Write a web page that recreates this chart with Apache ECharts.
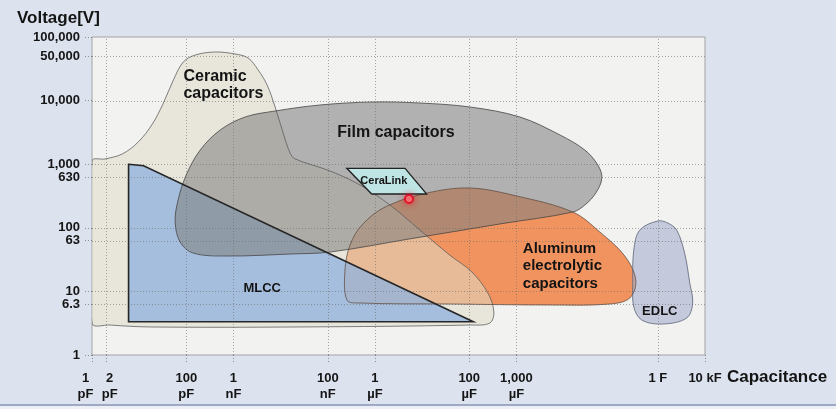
<!DOCTYPE html>
<html><head><meta charset="utf-8">
<script src="https://cdn.jsdelivr.net/npm/echarts@6/dist/echarts.min.js"></script>
<style>html,body{margin:0;padding:0;background:#dde3ee}#c{width:836px;height:409px}</style>
</head><body><div id="c"></div><script>
// Capacitance in pF, voltage in V
const xTickValues = [1, 2, 100, 1e3, 1e5, 1e6, 1e8, 1e9, 1e12, 1e13];
const xTickLabels = ['1\npF', '2\npF', '100\npF', '1\nnF', '100\nnF', '1\nµF', '100\nµF', '1,000\nµF', '1 F', '10 kF'];
const yTickValues = [1, 6.3, 10, 63, 100, 630, 1000, 10000, 50000, 100000];
const yTickLabels = ['1', '6.3', '10', '63', '100', '630', '1,000', '10,000', '50,000', '100,000'];
const xGridValues = [2, 100, 1e3, 1e5, 1e6, 1e8, 1e9, 1e12];
const yGridValues = [6.3, 10, 63, 100, 630, 1000, 10000, 50000];

const ceramicCapacitors = [[1,1120],[1.9,1210],[4.4,1450],[9.6,2240],[19,4270],[32,8860],[53,20900],[86,40400],[155,52100],[410,58100],[1090,54000],[2050,46700],[3330,30400],[5170,17600],[7640,7930],[11300,3100],[15900,1500],[20300,1210],[1.12e5,782],[4.83e5,471],[2.09e6,228],[9.0e6,92],[3.9e7,37],[1.14e8,20.2],[2.49e8,9.4],[3.33e8,4.74],[2.74e8,3.18],[1.04e8,2.96],[2.59e4,2.76],[17,2.76],[2.4,2.96],[1,3.18]];
const filmCapacitors = [[58,123],[67,274],[99.5,676],[197,1670],[523,3450],[1770,5520],[7640,6860],[68700,8530],[9.1e5,9510],[9.0e6,9160],[1.04e8,7930],[1.19e9,5520],[8.4e9,2880],[2.83e10,1670],[5.33e10,971],[6.5e10,607],[4.83e10,352],[2.83e10,228],[1.57e10,177],[4.47e8,115],[5.5e6,67],[1.12e5,41.6],[1.59e4,38.7],[735,36],[140,40],[74,59.8]];
const aluminumElectrolytic = [[2.56e5,7.3],[2.32e5,21.7],[2.97e5,53.7],[5.33e5,111],[1.64e6,212],[1.27e7,352],[1.04e8,422],[1.02e9,316],[1.57e10,177],[5.87e10,86],[1.99e11,36],[3.4e11,15.1],[2.54e11,7.87],[9.6e10,6.34],[5.1e9,6.11],[3.9e7,6.34],[4.83e5,6.57]];
const edlc = [[9.95e11,128],[1.62e12,119],[2.51e12,92],[3.7e12,40],[4.74e12,13.6],[5.48e12,6.57],[4.09e12,3.82],[1.27e12,3.07],[4.56e11,3.55],[3.09e11,5.69],[2.94e11,13.6],[3.09e11,44.8],[4.14e11,92]];
const mlcc = [[5.96,996],[12.4,947],[1.22e8,3.34],[5.96,3.34]];
const ceraLink = [[2.53e5,862],[4.35e6,862],[1.25e7,340],[8.55e5,340]];
const ceraLinkSample = [[5.28e6,284]];

const regionLabels = [
  { text: 'Ceramic\ncapacitors', at: [87, 17300] },
  { text: 'Film capacitors', at: [2.8e6, 3090] },
  { text: 'MLCC', at: [4070, 11.3] },
  { text: 'Aluminum\nelectrolytic\ncapacitors', at: [1.37e9, 25.1] },
  { text: 'EDLC', at: [1.1e12, 4.92] }
];
const ceraLinkLabel = { text: 'CeraLink', at: [1.55e6, 545] };

// ---- styles ----
const FONT = '"Liberation Sans", Arial, Helvetica, sans-serif';
const labelStyle = {
  'Ceramic\ncapacitors': { size: 16, align: 'left', lh: 17 },
  'Film capacitors': { size: 16, align: 'center', lh: 18 },
  'MLCC': { size: 13, align: 'center', lh: 15 },
  'Aluminum\nelectrolytic\ncapacitors': { size: 15, align: 'left', lh: 17.5 },
  'EDLC': { size: 13, align: 'center', lh: 15 },
  'CeraLink': { size: 11, align: 'center', lh: 13 }
};
const fillLayers = [
  { pts: aluminumElectrolytic, fill: '#f0935e', smooth: 0.35 },
  { pts: ceramicCapacitors, fill: 'rgba(224,219,200,0.55)', smooth: 0.35 },
  { pts: mlcc, fill: 'rgba(147,180,222,0.78)', smooth: 0 },
  { pts: filmCapacitors, fill: 'rgba(128,128,128,0.57)', smooth: 0.35 },
  { pts: edlc, fill: 'rgba(168,176,207,0.62)', smooth: 0.35 }
];
const outlineLayers = [
  { pts: aluminumElectrolytic, stroke: 'rgba(95,75,65,0.85)', w: 0.9, smooth: 0.35 },
  { pts: ceramicCapacitors, stroke: 'rgba(90,90,90,0.85)', w: 0.9, smooth: 0.35 },
  { pts: filmCapacitors, stroke: 'rgba(70,70,70,0.9)', w: 0.9, smooth: 0.35 },
  { pts: edlc, stroke: 'rgba(100,106,125,0.95)', w: 0.9, smooth: 0.35 },
  { pts: mlcc, stroke: '#262626', w: 1.6, smooth: 0 }
];

function polyRender(layers, mode) {
  return function (params, api) {
    const L = layers[params.dataIndex];
    return {
      type: 'polygon', z2: params.dataIndex,
      shape: { points: L.pts.map(p => api.coord(p)), smooth: L.smooth },
      style: mode === 'fill' ? { fill: L.fill, stroke: null } : { fill: null, stroke: L.stroke, lineWidth: L.w }
    };
  };
}
function findIdx(arr, v) {
  return arr.findIndex(t => Math.abs(Math.log10(t) - Math.log10(v)) < 1e-6);
}
function textEl(label, api) {
  const p = api.coord(label.at);
  const s = labelStyle[label.text];
  return {
    type: 'text', x: p[0], y: p[1], z2: 50,
    style: { text: label.text, fill: '#141414', font: 'bold ' + s.size + 'px ' + FONT,
      align: s.align, verticalAlign: 'middle', lineHeight: s.lh }
  };
}
const tokenBase = { fontWeight: 'bold', fontSize: 13, fontFamily: FONT, color: '#141414', lineHeight: 16 };
function xLabelFormatter(v) {
  const i = findIdx(xTickValues, v);
  const s = xTickLabels[i] || '';
  const tag = i === 0 ? 'l' : (i === 1 ? 'r' : 'n');
  return s.split('\n').map(line => '{' + tag + '|' + line + '}').join('\n');
}
function xAxisDef(values, withTicks) {
  return {
    type: 'log', logBase: 10, min: 1, max: 1e13, position: 'bottom', offset: 0,
    axisLine: { show: false }, splitLine: { show: false }, minorTick: { show: false },
    axisTick: { show: withTicks, customValues: xTickValues, length: 7, lineStyle: dotted },
    axisLabel: {
      customValues: values, margin: 15, hideOverlap: false, showMinLabel: true, showMaxLabel: true,
      color: '#141414', fontWeight: 'bold', fontSize: 13, fontFamily: FONT, lineHeight: 16,
      formatter: xLabelFormatter,
      rich: {
        n: tokenBase,
        l: Object.assign({}, tokenBase, { padding: [0, 13, 0, 0] }),
        r: Object.assign({}, tokenBase, { padding: [0, 0, 0, 7] })
      }
    }
  };
}

const chart = echarts.init(document.getElementById('c'), null, { renderer: 'canvas' });
const dotted = { color: 'rgba(110,110,110,0.75)', type: [1, 2], width: 1 };
chart.setOption({
  backgroundColor: '#dde3ee',
  animation: false,
  grid: { left: 92, right: 131, top: 37, bottom: 54, show: true, backgroundColor: '#f2f2f1',
    borderColor: '#a3a3a3', borderWidth: 1, containLabel: false, outerBoundsMode: 'none' },
  xAxis: [
    xAxisDef(xTickValues.filter((v, i) => i !== 1), true),
    xAxisDef([xTickValues[1]], false)
  ],
  yAxis: {
    type: 'log', logBase: 10, min: 1, max: 1e5,
    axisLine: { show: false }, splitLine: { show: false }, minorTick: { show: false },
    axisTick: { show: true, customValues: yTickValues, length: 7, lineStyle: dotted },
    axisLabel: {
      customValues: yTickValues, margin: 12, hideOverlap: false, showMinLabel: true, showMaxLabel: true,
      color: '#141414', fontWeight: 'bold', fontSize: 13, fontFamily: FONT,
      formatter: function (v) { return yTickLabels[findIdx(yTickValues, v)] || ''; }
    }
  },
  graphic: [
    { type: 'text', left: 17, top: 10, style: { text: 'Voltage[V]', font: 'bold 17px ' + FONT, fill: '#141414' } },
    { type: 'text', left: 727, top: 369, style: { text: 'Capacitance', font: 'bold 17px ' + FONT, fill: '#141414' } },
    { type: 'rect', left: 0, top: 404, shape: { width: 836, height: 2 }, style: { fill: '#9ea9c5' } },
    { type: 'rect', left: 0, top: 406, shape: { width: 836, height: 3 }, style: { fill: '#eceff5' } }
  ],
  series: [
    { type: 'custom', name: 'fills', coordinateSystem: 'cartesian2d', xAxisIndex: 0, clip: true, silent: true, z: 2,
      data: fillLayers.map(() => [1, 1]), renderItem: polyRender(fillLayers, 'fill') },
    { type: 'custom', name: 'grid', coordinateSystem: 'cartesian2d', xAxisIndex: 0, clip: true, silent: true, z: 3,
      data: xGridValues.map(v => [v, 1]).concat(yGridValues.map(v => [1, v])),
      renderItem: function (params, api) {
        const i = params.dataIndex;
        let a, b;
        if (i < xGridValues.length) { a = api.coord([xGridValues[i], 1]); b = api.coord([xGridValues[i], 1e5]); const x = Math.round(a[0]) + 0.5; a[0] = b[0] = x; }
        else { const v = yGridValues[i - xGridValues.length]; a = api.coord([1, v]); b = api.coord([1e13, v]); const y = Math.round(a[1]) + 0.5; a[1] = b[1] = y; }
        return { type: 'line', shape: { x1: a[0], y1: a[1], x2: b[0], y2: b[1] },
          style: { stroke: 'rgba(110,110,110,0.6)', lineWidth: 1, lineDash: [1, 2] } };
      } },
    { type: 'custom', name: 'outlines', coordinateSystem: 'cartesian2d', xAxisIndex: 0, clip: true, silent: true, z: 4,
      data: outlineLayers.map(() => [1, 1]), renderItem: polyRender(outlineLayers, 'stroke') },
    { type: 'custom', name: 'CeraLink', coordinateSystem: 'cartesian2d', xAxisIndex: 0, clip: true, silent: true, z: 5,
      data: [[1, 1]],
      renderItem: function (params, api) {
        return { type: 'polygon', shape: { points: ceraLink.map(p => api.coord(p)) },
          style: { fill: '#bfe4e4', stroke: '#222', lineWidth: 1.3 } };
      } },
    { type: 'scatter', name: 'sample', xAxisIndex: 0, z: 6, silent: true, data: ceraLinkSample, symbol: 'circle', symbolSize: 8,
      itemStyle: { color: '#ff8f8f', borderColor: '#e0001c', borderWidth: 2, shadowBlur: 6, shadowColor: 'rgba(255,0,30,0.7)' } },
    { type: 'custom', name: 'labels', coordinateSystem: 'cartesian2d', xAxisIndex: 0, silent: true, z: 7,
      data: regionLabels.concat([ceraLinkLabel]).map(l => l.at),
      renderItem: function (params, api) {
        const all = regionLabels.concat([ceraLinkLabel]);
        return textEl(all[params.dataIndex], api);
      } }
  ]
});
</script></body></html>
